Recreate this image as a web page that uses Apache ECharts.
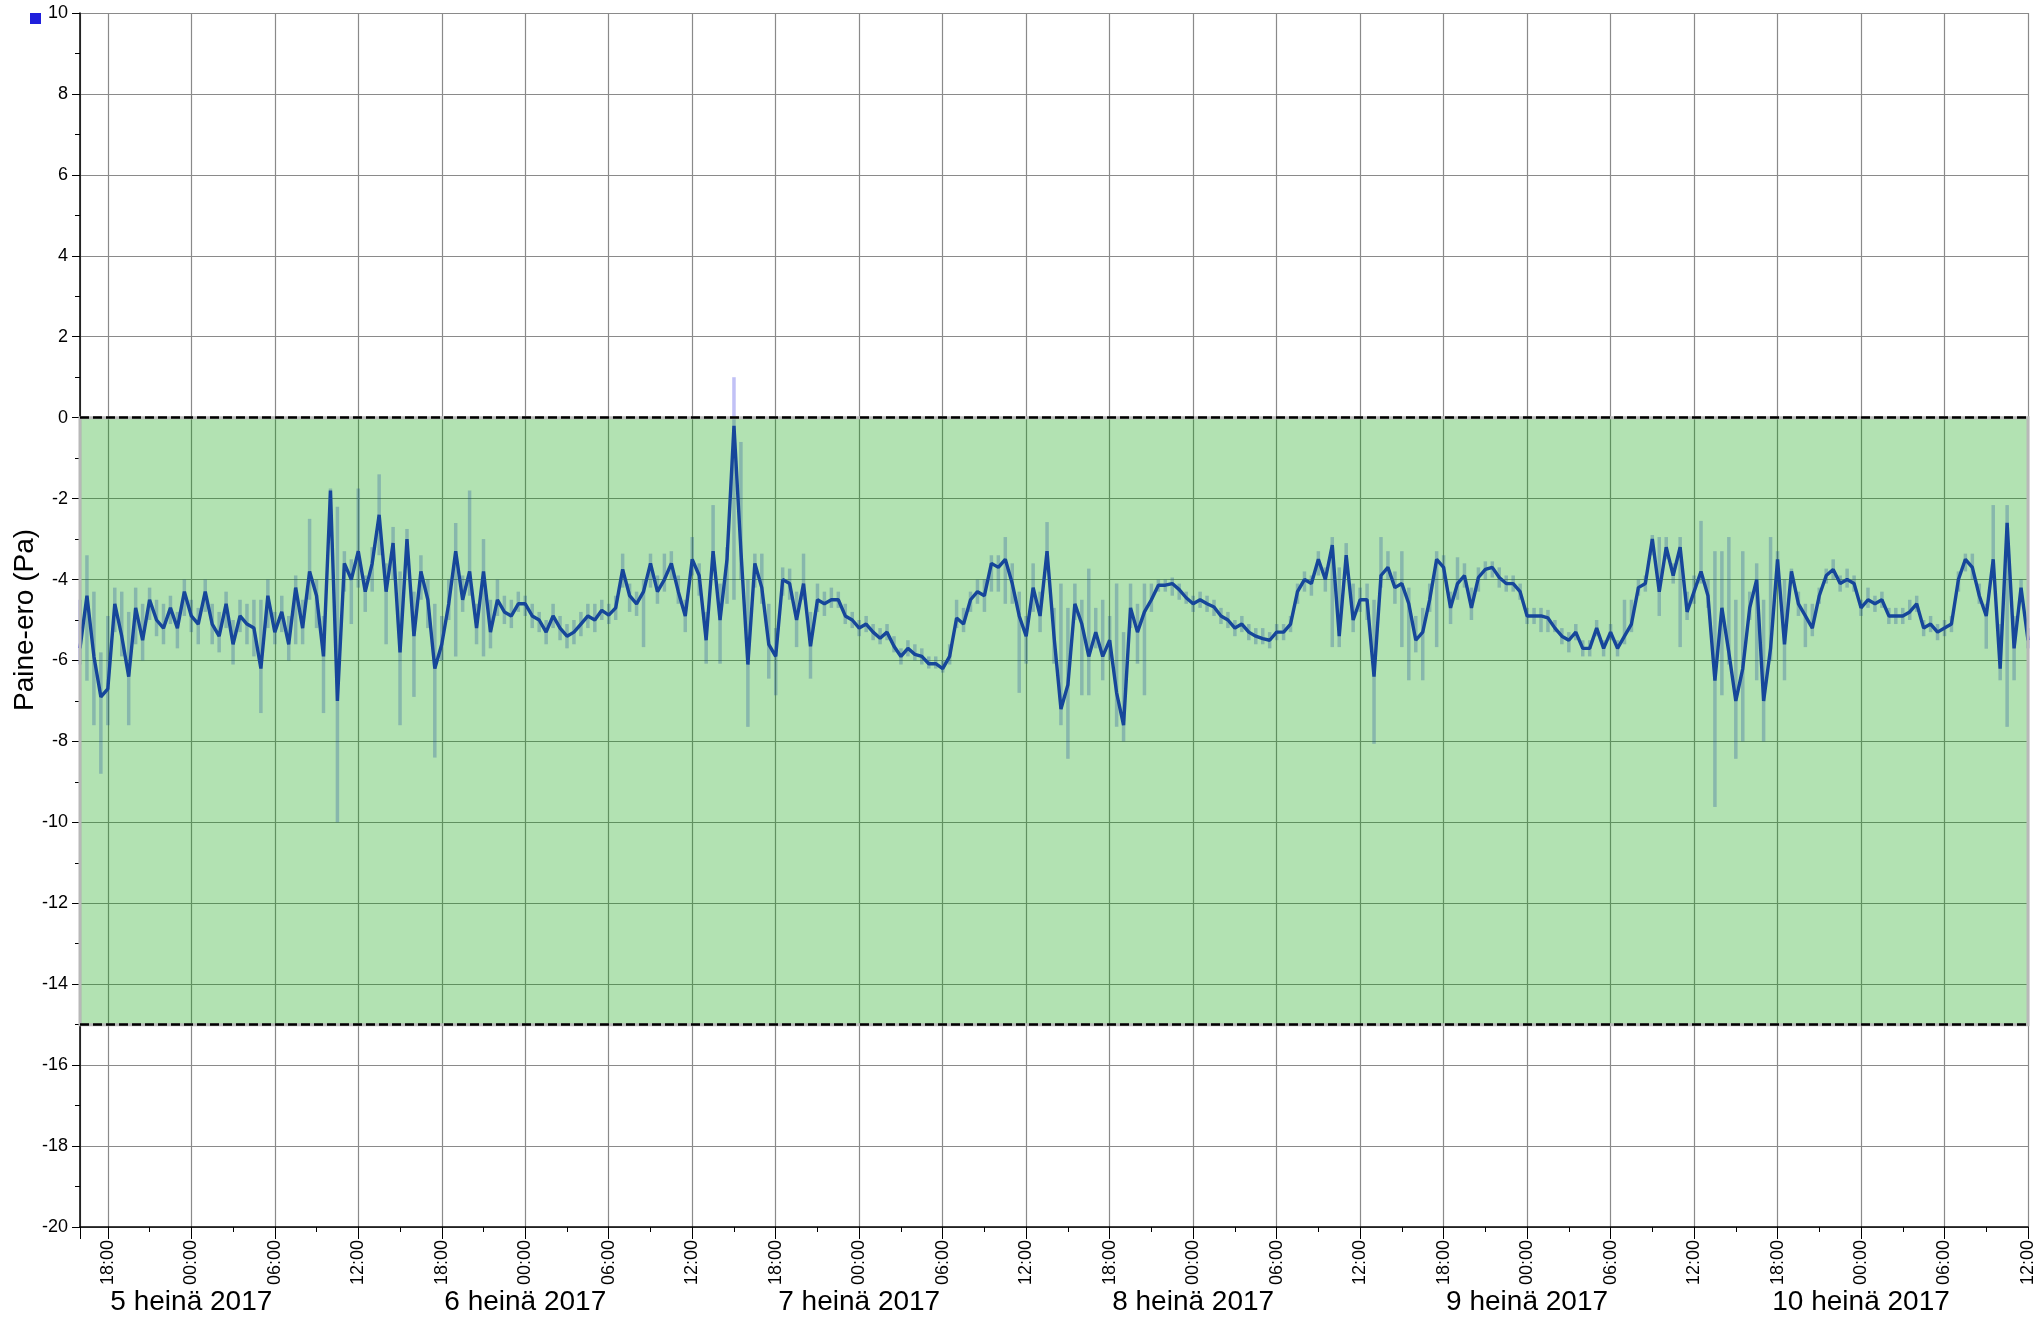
<!DOCTYPE html>
<html><head><meta charset="utf-8">
<script src="https://cdn.jsdelivr.net/npm/echarts@6/dist/echarts.min.js"></script>
<style>html,body{margin:0;padding:0;background:#fff}#c{width:2041px;height:1320px}</style>
</head><body><div id="c"></div>
<script>
// ---- text ----
const yAxisTitle = 'Paine-ero (Pa)';
const monthName = 'heinä';
const yearText = '2017';
// ---- axis range (x in hours since 4 Jul 2017 00:00) ----
const origin = '2017-07-04T00:00';
const xStart = '2017-07-04T16:00';
const xEnd = '2017-07-10T12:00';
const firstDay = 4;
const tickHours = 6;
const yMin = -20, yMax = 10, yStep = 2;
const bandLimits = [0, -15];
const sampleMinutes = 30;

// ---- values (Pa), one value every 30 minutes from each start time ----
const start04 = '2017-07-04T16:00';
const val04 = [-5.7,-4.4,-5.9,-6.9,-6.7,-4.6,-5.4,-6.4,-4.7,-5.5,-4.5,-5.0,-5.2,-4.7,-5.2,-4.3];
const hi04  = [-4.5,-3.4,-4.3,-5.8,-4.9,-4.2,-4.3,-4.8,-4.2,-4.6,-4.2,-4.5,-4.6,-4.4,-4.8,-4.0];
const lo04  = [-6.1,-6.5,-7.6,-8.8,-7.6,-5.3,-5.9,-7.6,-5.6,-6.0,-5.0,-5.4,-5.6,-5.1,-5.7,-4.9];

const start05 = '2017-07-05T00:00';
const val05 = [-4.9,-5.1,-4.3,-5.1,-5.4,-4.6,-5.6,-4.9,-5.1,-5.2, -6.2,-4.4,-5.3,-4.8,-5.6,-4.2,-5.2,-3.8,-4.4,-5.9, -1.8,-7.0,-3.6,-4.0,-3.3,-4.3,-3.6,-2.4,-4.3,-3.1, -5.8,-3.0,-5.4,-3.8,-4.5,-6.2,-5.6,-4.6,-3.3,-4.5, -3.8,-5.2,-3.8,-5.3,-4.5,-4.8,-4.9,-4.6];
const hi05  = [-4.5,-4.7,-4.0,-4.6,-4.8,-4.3,-5.0,-4.5,-4.6,-4.5, -4.5,-4.0,-4.8,-4.4,-4.9,-3.9,-4.5,-2.5,-4.0,-4.9, -1.75,-2.2,-3.3,-3.5,-1.75,-3.9,-3.2,-1.4,-3.6,-2.7, -3.8,-2.75,-4.3,-3.4,-4.0,-4.6,-4.9,-4.0,-2.6,-3.9, -1.8,-4.6,-3.0,-4.5,-4.0,-4.4,-4.5,-4.3];
const lo05  = [-5.3,-5.6,-4.8,-5.6,-5.8,-5.2,-6.1,-5.3,-5.6,-5.9, -7.3,-5.2,-5.6,-5.3,-6.0,-5.6,-5.6,-4.5,-5.2,-7.3, -2.6,-10.0,-4.3,-5.1,-4.2,-4.8,-4.3,-3.4,-5.6,-4.0, -7.6,-3.6,-6.9,-4.5,-5.2,-8.4,-6.0,-5.0,-5.9,-4.8, -4.4,-5.6,-5.9,-5.7,-4.9,-5.1,-5.2,-4.8];

const start06 = '2017-07-06T00:00';
const val06 = [-4.6,-4.9,-5.0,-5.3,-4.9,-5.2,-5.4,-5.3,-5.1,-4.9, -5.0,-4.76,-4.88,-4.7,-3.75,-4.4,-4.6,-4.3,-3.6,-4.3, -4.0,-3.6,-4.3,-4.9,-3.5,-3.9,-5.5,-3.3,-5.0,-3.5, -0.2,-3.3,-6.1,-3.6,-4.2,-5.6,-5.9,-4.0,-4.1,-5.0, -4.1,-5.65,-4.5,-4.6,-4.5,-4.5,-4.9,-5.0];
const hi06  = [-4.4,-4.6,-4.8,-5.0,-4.6,-4.9,-5.1,-5.0,-4.8,-4.6, -4.6,-4.5,-4.6,-4.4,-3.36,-4.1,-4.3,-4.0,-3.36,-3.9, -3.36,-3.3,-3.9,-4.5,-2.95,-3.6,-4.8,-2.16,-4.1,-3.2, 1.0,-0.6,-4.0,-3.36,-3.36,-4.6,-5.2,-3.7,-3.73,-4.3, -3.36,-4.8,-4.1,-4.3,-4.2,-4.3,-4.6,-4.8];
const lo06  = [-4.9,-5.2,-5.3,-5.6,-5.2,-5.5,-5.7,-5.6,-5.4,-5.2, -5.3,-5.0,-5.1,-5.0,-4.2,-4.8,-4.9,-5.67,-4.2,-4.6, -4.3,-4.0,-4.6,-5.3,-3.9,-4.4,-6.08,-3.7,-6.08,-4.6, -4.5,-4.0,-7.64,-4.2,-4.6,-6.45,-6.86,-4.4,-4.5,-5.67, -4.5,-6.45,-4.8,-4.9,-4.7,-4.7,-5.1,-5.2];

const start07 = '2017-07-07T00:00';
const val07 = [-5.2,-5.1,-5.3,-5.45,-5.3,-5.65,-5.9,-5.7,-5.85,-5.9, -6.08,-6.08,-6.2,-5.9,-4.95,-5.1,-4.5,-4.3,-4.4,-3.6, -3.7,-3.5,-4.1,-4.9,-5.4,-4.2,-4.9,-3.3,-5.4,-7.2, -6.6,-4.6,-5.1,-5.9,-5.3,-5.9,-5.5,-6.8,-7.6,-4.7, -5.3,-4.8,-4.5,-4.14,-4.14,-4.1,-4.25,-4.45];
const hi07  = [-5.0,-4.9,-5.1,-5.2,-5.1,-5.4,-5.7,-5.5,-5.6,-5.7, -5.9,-5.9,-6.0,-5.6,-4.5,-4.7,-4.3,-4.0,-4.0,-3.4, -3.4,-2.95,-3.6,-4.3,-4.9,-3.6,-4.3,-2.58,-4.7,-4.1, -4.7,-4.1,-4.5,-3.73,-4.7,-4.5,-4.9,-4.1,-5.3,-4.1, -4.6,-4.1,-4.1,-4.0,-4.0,-3.95,-4.1,-4.3];
const lo07  = [-5.4,-5.3,-5.5,-5.6,-5.5,-5.8,-6.1,-5.9,-6.0,-6.1, -6.2,-6.2,-6.3,-6.1,-5.2,-5.3,-4.8,-4.6,-4.8,-4.3, -4.3,-4.6,-4.6,-6.8,-6.08,-4.8,-5.3,-3.6,-6.08,-7.6, -8.43,-5.0,-6.86,-6.86,-5.7,-6.49,-6.0,-7.64,-8.0,-5.2, -6.08,-6.86,-4.8,-4.3,-4.3,-4.4,-4.5,-4.6];

const start08 = '2017-07-08T00:00';
const val08 = [-4.6,-4.5,-4.6,-4.68,-4.9,-5.0,-5.2,-5.1,-5.3,-5.4, -5.46,-5.5,-5.3,-5.3,-5.1,-4.3,-4.0,-4.1,-3.5,-4.0, -3.15,-5.4,-3.4,-5.0,-4.5,-4.5,-6.4,-3.9,-3.7,-4.2, -4.1,-4.6,-5.5,-5.3,-4.5,-3.5,-3.7,-4.7,-4.1,-3.9, -4.7,-3.95,-3.75,-3.7,-3.95,-4.1,-4.1,-4.3];
const hi08  = [-4.4,-4.3,-4.4,-4.5,-4.7,-4.8,-5.0,-4.9,-5.1,-5.2, -5.2,-5.3,-5.1,-5.1,-4.9,-4.1,-3.8,-3.9,-3.3,-3.7, -2.95,-3.7,-3.1,-4.1,-4.2,-4.1,-4.5,-2.95,-3.3,-3.8, -3.3,-4.2,-4.9,-4.7,-4.1,-3.3,-3.4,-4.3,-3.45,-3.6, -4.2,-3.7,-3.55,-3.55,-3.7,-3.9,-3.9,-4.1];
const lo08  = [-4.8,-4.7,-4.8,-4.9,-5.1,-5.2,-5.4,-5.3,-5.5,-5.6, -5.6,-5.7,-5.5,-5.5,-5.3,-4.6,-4.3,-4.4,-3.9,-4.3, -5.67,-5.67,-3.9,-5.3,-4.8,-5.0,-8.06,-4.2,-4.0,-4.6, -5.67,-6.49,-5.8,-6.49,-4.8,-5.67,-4.0,-5.1,-4.5,-4.2, -5.0,-4.3,-4.0,-3.95,-4.2,-4.3,-4.3,-4.5];

const start09 = '2017-07-09T00:00';
const val09 = [-4.9,-4.9,-4.9,-4.95,-5.2,-5.4,-5.5,-5.3,-5.7,-5.7, -5.2,-5.7,-5.3,-5.7,-5.4,-5.1,-4.2,-4.1,-3.0,-4.3, -3.2,-3.9,-3.2,-4.8,-4.3,-3.8,-4.4,-6.5,-4.7,-5.8, -7.0,-6.2,-4.7,-4.0,-7.0,-5.7,-3.5,-5.6,-3.8,-4.6, -4.9,-5.2,-4.4,-3.9,-3.75,-4.1,-4.0,-4.1];
const hi09  = [-4.7,-4.7,-4.7,-4.75,-5.0,-5.2,-5.3,-5.1,-5.5,-5.5, -5.0,-5.5,-5.1,-5.5,-4.5,-4.5,-4.0,-3.9,-2.9,-2.95, -2.95,-3.6,-2.95,-4.3,-3.9,-2.55,-4.0,-3.3,-3.3,-2.95, -4.5,-3.3,-4.3,-3.6,-4.5,-2.95,-3.3,-4.0,-3.73,-4.3, -4.6,-4.6,-4.2,-3.73,-3.5,-3.9,-3.73,-3.9];
const lo09  = [-5.1,-5.1,-5.3,-5.3,-5.3,-5.6,-5.8,-5.5,-5.9,-5.9, -5.4,-5.9,-5.5,-5.9,-5.6,-5.3,-4.4,-4.3,-3.4,-4.9, -3.5,-4.1,-5.67,-5.0,-4.6,-4.1,-4.7,-9.62,-6.86,-6.1, -8.43,-8.0,-5.0,-6.49,-8.0,-6.0,-3.8,-6.49,-4.1,-4.9, -5.67,-5.4,-4.6,-4.1,-4.0,-4.3,-4.2,-4.3];

const start10 = '2017-07-10T00:00';
const val10 = [-4.7,-4.5,-4.6,-4.5,-4.9,-4.9,-4.9,-4.8,-4.6,-5.2, -5.1,-5.3,-5.2,-5.1,-4.0,-3.5,-3.7,-4.4,-4.9,-3.5, -6.2,-2.6,-5.7,-4.2,-5.5];
const hi10  = [-4.5,-4.2,-4.4,-4.3,-4.7,-4.7,-4.7,-4.5,-4.4,-5.0, -4.9,-5.1,-5.0,-4.9,-3.8,-3.36,-3.36,-4.1,-4.6,-2.16, -5.1,-2.16,-4.9,-4.0,-5.2];
const lo10  = [-4.9,-4.7,-4.8,-4.7,-5.1,-5.1,-5.1,-5.0,-4.8,-5.4, -5.3,-5.5,-5.4,-5.3,-4.3,-3.8,-4.0,-4.6,-5.71,-3.8, -6.49,-7.64,-6.49,-4.5,-5.7];

const days = [
  [start04, val04, lo04, hi04], [start05, val05, lo05, hi05], [start06, val06, lo06, hi06],
  [start07, val07, lo07, hi07], [start08, val08, lo08, hi08], [start09, val09, lo09, hi09],
  [start10, val10, lo10, hi10]
];
const H = 3600000;
const hoursOf = s => (new Date(s).getTime() - new Date(origin).getTime()) / H;
const lineData = [], rangeData = [];
days.forEach(([s, v, lo, hi]) => {
  const h0 = hoursOf(s);
  v.forEach((val, i) => {
    const h = h0 + i * sampleMinutes / 60;
    lineData.push([h, val]);
    rangeData.push([h, lo[i], hi[i]]);
  });
});

const pad = n => (n < 10 ? '0' : '') + n;
const FONT = 'Liberation Sans';
const isMult = (v, m) => Math.abs(v / m - Math.round(v / m)) < 1e-6;

const chart = echarts.init(document.getElementById('c'), null, {renderer: 'canvas'});
chart.setOption({
  animation: false,
  grid: {left: 80, right: 13, top: 13, bottom: 93, containLabel: false, outerBoundsMode: 'none'},
  graphic: [{type: 'rect', left: 30, top: 13, shape: {width: 11, height: 11}, style: {fill: '#1f1fdc'}}],
  xAxis: [{
    type: 'value', min: hoursOf(xStart), max: hoursOf(xEnd),
    minInterval: tickHours, maxInterval: tickHours, splitNumber: 24, scale: true,
    axisLine: {show: true, onZero: false, lineStyle: {color: '#000', width: 1.5}},
    axisTick: {show: true, length: 12, lineStyle: {color: '#000'}},
    minorTick: {show: true, splitNumber: 2, length: 5, lineStyle: {color: '#000'}},
    splitLine: {show: true, lineStyle: {color: '#8a8a8a', width: 1.2}},
    axisLabel: {rotate: 90, margin: 13, fontSize: 18, color: '#000', fontFamily: FONT,
      showMinLabel: true, showMaxLabel: true, hideOverlap: false,
      formatter: val => isMult(val, tickHours) ? pad(Math.round(val) % 24) + ':00' : ''}
  }, {
    type: 'value', min: hoursOf(xStart), max: hoursOf(xEnd),
    minInterval: 24, maxInterval: 24, splitNumber: 6, scale: true, position: 'bottom', offset: 0,
    axisLine: {show: false}, axisTick: {show: false}, splitLine: {show: false}, minorTick: {show: false},
    axisLabel: {margin: 61, fontSize: 28, color: '#000', fontFamily: FONT, hideOverlap: false,
      showMinLabel: true, showMaxLabel: true,
      formatter: val => isMult(val, 24) ? (firstDay + Math.round(val / 24)) + ' ' + monthName + ' ' + yearText : ''}
  }],
  yAxis: {
    type: 'value', min: yMin, max: yMax, interval: yStep,
    name: yAxisTitle, nameLocation: 'middle', nameGap: 41, nameMoveOverlap: false,
    nameTextStyle: {fontSize: 28, color: '#000', fontFamily: FONT},
    axisLine: {show: true, onZero: false, lineStyle: {color: '#000', width: 1.5}},
    axisTick: {show: true, length: 8, lineStyle: {color: '#000'}},
    minorTick: {show: true, splitNumber: 2, length: 5, lineStyle: {color: '#000'}},
    splitLine: {show: true, lineStyle: {color: '#8a8a8a', width: 1.2}},
    axisLabel: {fontSize: 18, margin: 12, color: '#000', fontFamily: FONT}
  },
  series: [{
    type: 'custom', z: 1, silent: true, xAxisIndex: 0,
    encode: {x: 0, y: [1, 2]},
    data: rangeData,
    renderItem: (params, api) => {
      const x = api.value(0);
      const top = api.coord([x, api.value(2)]);
      const bot = api.coord([x, api.value(1)]);
      return {type: 'rect', shape: {x: top[0] - 1.75, y: top[1], width: 3.5, height: Math.max(1, bot[1] - top[1])},
        style: {fill: 'rgba(32,32,221,0.28)'}};
    }
  }, {
    type: 'line', z: 2, xAxisIndex: 0, data: lineData, symbol: 'none', showSymbol: false,
    lineStyle: {color: '#2020dd', width: 3.4}
  }, {
    type: 'line', z: 3, xAxisIndex: 0, data: lineData, symbol: 'none', showSymbol: false, silent: true,
    lineStyle: {opacity: 0},
    markArea: {z: 10, silent: true,
      itemStyle: {color: 'rgba(0,158,0,0.3)', borderColor: '#b8b8b8', borderWidth: 3},
      data: [[{yAxis: bandLimits[0]}, {yAxis: bandLimits[1]}]]},
    markLine: {z: 11, silent: true, symbol: 'none', label: {show: false},
      lineStyle: {color: '#000', type: [9, 4], width: 2.5},
      data: [{yAxis: bandLimits[0]}, {yAxis: bandLimits[1]}]}
  }]
});
</script>
</body></html>
